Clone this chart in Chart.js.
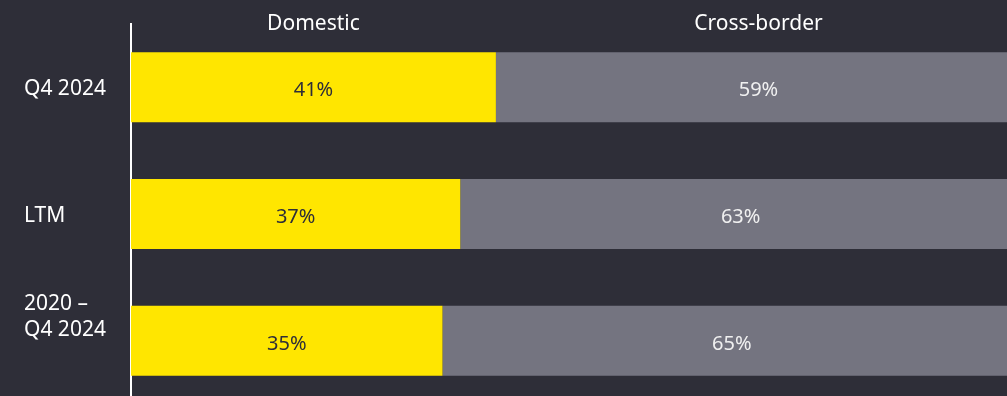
<!DOCTYPE html>
<html>
<head>
<meta charset="utf-8">
<script src="https://cdn.jsdelivr.net/npm/chart.js@4.4.1/dist/chart.umd.min.js"></script>
<style>
  html, body { margin: 0; padding: 0; background: #2e2e38; overflow: hidden; }
  #wrap { width: 1021px; height: 404px; position: relative; }
</style>
</head>
<body>
<div id="wrap"><canvas id="dealChart"></canvas></div>
<script>
// data
const periods = [["Q4 2024"], ["LTM"], ["2020 –", "Q4 2024", "", ""]];
const seriesNames = ["Domestic", "Cross-border"];
const domestic = [41, 37, 35];
const crossBorder = [59, 63, 65];

const yellow = "#ffe600";
const grey = "#747480";
const bg = "#2e2e38";
const fontFam = "'Noto Sans', sans-serif";

// labels inside the bars + column headers over the first bar
const barText = {
    id: "barText",
    afterDatasetsDraw(chart) {
        const c = chart.ctx;
        c.save();
        c.textAlign = "center";
        chart.data.datasets.forEach((ds, i) => {
            const meta = chart.getDatasetMeta(i);
            meta.data.forEach((bar, j) => {
                const left = Math.min(bar.x, bar.base);
                const right = Math.max(bar.x, bar.base);
                c.font = "20px " + fontFam;
                c.fillStyle = i === 0 ? "#2e2e38" : "#f0f0f0";
                c.textBaseline = "alphabetic";
                c.fillText(ds.data[j] + "%", (left + right) / 2, bar.y + 9);
                if (j === 0) {
                    c.font = "21px " + fontFam;
                    c.fillStyle = "#ffffff";
                    c.fillText(ds.label, (left + right) / 2, 30);
                }
            });
        });
        c.restore();
    }
};

const ctx = document.getElementById("dealChart").getContext("2d");
new Chart(ctx, {
    type: "bar",
    data: {
        labels: periods,
        datasets: [
            { label: seriesNames[0], data: domestic, backgroundColor: yellow, borderWidth: 0 },
            { label: seriesNames[1], data: crossBorder, backgroundColor: grey, borderWidth: 0 }
        ]
    },
    options: {
        indexAxis: "y",
        responsive: true,
        maintainAspectRatio: false,
        animation: false,
        layout: { padding: { top: 24, left: 24, right: 0, bottom: 0 } },
        datasets: { bar: { categoryPercentage: 0.553, barPercentage: 1 } },
        plugins: {
            legend: { display: false },
            tooltip: { enabled: false }
        },
        scales: {
            x: { stacked: true, min: 0, max: 100, display: false },
            y: {
                stacked: true,
                grid: { display: false },
                border: { display: true, color: "#ffffff", width: 2 },
                afterFit: s => {
                    s.width = 107;
                    s.paddingTop = 0;
                    s.paddingBottom = 0;
                },
                ticks: {
                    crossAlign: "far",
                    labelOffset: 2,
                    color: "#ffffff",
                    font: { family: fontFam, size: 21, lineHeight: 1.24 }
                }
            }
        }
    },
    plugins: [barText]
});
</script>
</body>
</html>
